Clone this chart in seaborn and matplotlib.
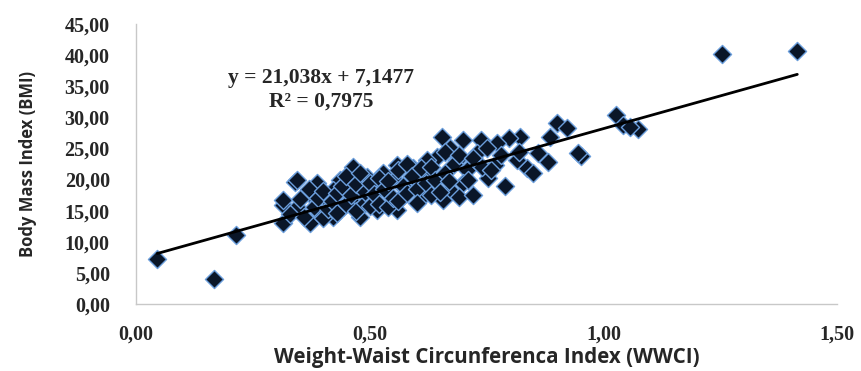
import matplotlib
matplotlib.use('Agg')
import matplotlib.pyplot as plt
from matplotlib.ticker import FuncFormatter, MultipleLocator
import seaborn as sns
import numpy as np
import pandas as pd

# ---------------------------------------------------------------------------
# Data (WWCI vs BMI)
# ---------------------------------------------------------------------------
wwci = [
    0.045, 0.167, 0.214, 0.315, 0.315, 0.340, 1.253, 1.415,
    1.028, 1.043, 1.073, 1.058, 0.951,
    0.901, 0.923, 0.946, 0.886, 0.882, 0.859, 0.837, 0.822, 0.797, 0.773,
    0.815, 0.769, 0.754, 0.737, 0.730, 0.700, 0.672, 0.655, 0.644, 0.687,
    0.708, 0.700, 0.672, 0.657, 0.623, 0.615, 0.593, 0.587, 0.559, 0.550,
    0.572, 0.615, 0.569, 0.529, 0.522, 0.507, 0.494, 0.465, 0.480, 0.458,
    0.437, 0.443, 0.422, 0.409, 0.388, 0.369, 0.373, 0.345, 0.345, 0.315,
    0.394, 0.422, 0.480, 0.516, 0.559,
    0.330, 0.350, 0.360, 0.370, 0.380, 0.390, 0.400, 0.400, 0.410, 0.420,
    0.430, 0.430, 0.440, 0.450, 0.450, 0.460, 0.470, 0.470, 0.480, 0.490,
    0.490, 0.500, 0.500, 0.510, 0.520, 0.520, 0.530, 0.540, 0.540, 0.550,
    0.560, 0.560, 0.570, 0.580, 0.580, 0.590, 0.600, 0.600, 0.610, 0.620,
    0.630, 0.630, 0.640, 0.650, 0.660, 0.660, 0.670, 0.680, 0.690, 0.690,
    0.710, 0.720, 0.720, 0.740, 0.750, 0.760, 0.780, 0.790, 0.820, 0.850,
]
bmi = [
    7.2, 4.0, 11.1, 15.9, 13.0, 19.6, 40.2, 40.7,
    30.4, 28.8, 28.1, 28.5, 23.8,
    29.1, 28.3, 24.3, 26.9, 22.8, 24.3, 21.9, 26.9, 26.7, 25.9,
    23.2, 22.3, 20.3, 26.4, 24.3, 26.4, 25.1, 26.9, 23.6, 23.2,
    21.5, 19.5, 18.3, 16.7, 23.2, 21.1, 21.9, 19.9, 22.3, 20.3,
    18.8, 17.5, 17.2, 21.1, 18.8, 16.7, 20.4, 22.0, 18.3, 16.7,
    19.9, 15.6, 18.3, 16.7, 19.5, 17.8, 13.0, 19.9, 15.6, 16.7,
    14.6, 14.0, 14.0, 15.1, 15.1,
    14.5, 16.8, 14.0, 18.5, 15.5, 17.0, 13.8, 18.2, 15.2, 16.5,
    17.8, 14.6, 19.0, 16.0, 20.5, 17.5, 15.0, 19.2, 21.0, 16.2,
    18.0, 19.5, 15.8, 17.6, 20.2, 16.0, 18.5, 15.5, 19.8, 17.0,
    21.5, 16.5, 19.0, 22.5, 17.8, 20.5, 18.5, 16.2, 21.8, 19.5,
    17.5, 22.0, 20.0, 18.0, 21.0, 24.5, 19.8, 22.5, 17.2, 24.0,
    20.0, 23.5, 17.5, 22.0, 25.0, 21.5, 24.0, 19.0, 24.5, 21.0,
]

# trend line as printed on the chart
slope = 21.038
intercept = 7.1477
r_squared = 0.7975

df = pd.DataFrame({'WWCI': wwci, 'BMI': bmi})
line_x = [min(wwci), max(wwci)]
df_line = pd.DataFrame({'WWCI': line_x,
                        'BMI': [slope * v + intercept for v in line_x]})

# ---------------------------------------------------------------------------
# Plot
# ---------------------------------------------------------------------------
sns.set_style('white')
plt.rcParams['font.family'] = ['Liberation Serif', 'DejaVu Serif']

fig = plt.figure(figsize=(8.62, 3.71), dpi=100)
ax = fig.add_axes([0.158, 0.181, 0.813, 0.754])

sns.scatterplot(data=df, x='WWCI', y='BMI', ax=ax, marker='D', s=85,
                color='#0a1628', edgecolor='#6a9ddb', linewidth=1.0,
                zorder=3, legend=False)
sns.lineplot(data=df_line, x='WWCI', y='BMI', ax=ax, color='black',
             linewidth=2.0, zorder=4)

ax.set_xlim(0, 1.5)
ax.set_ylim(0, 45)
ax.xaxis.set_major_locator(MultipleLocator(0.5))
ax.yaxis.set_major_locator(MultipleLocator(5))
comma_fmt = FuncFormatter(lambda v, p: f'{v:.2f}'.replace('.', ','))
ax.xaxis.set_major_formatter(comma_fmt)
ax.yaxis.set_major_formatter(comma_fmt)

for side in ['top', 'right']:
    ax.spines[side].set_visible(False)
for side in ['left', 'bottom']:
    ax.spines[side].set_color('#c8c8c8')
    ax.spines[side].set_linewidth(1.0)

ax.tick_params(axis='both', which='major', direction='out', length=7,
               width=1.0, color='#c8c8c8', labelsize=14.5)
ax.tick_params(axis='y', pad=12)
ax.tick_params(axis='x', pad=8)
for lbl in ax.get_xticklabels() + ax.get_yticklabels():
    lbl.set_fontweight('bold')

ax.set_xlabel('Weight-Waist Circunferenca Index (WWCI)', fontsize=14.8,
              fontweight='bold', family='Open Sans', labelpad=2)
ax.set_ylabel('Body Mass Index (BMI)', fontsize=12, fontweight='bold',
              family='Open Sans', labelpad=20)

eq = f'y = {slope:.3f}x + {intercept:.4f}'.replace('.', ',')
r2 = f'R² = {r_squared:.4f}'.replace('.', ',')
ax.text(0.395, 36.4, eq, ha='center', va='center', fontsize=15.5,
        fontweight='bold')
ax.text(0.395, 32.6, r2, ha='center', va='center', fontsize=15.5,
        fontweight='bold')

plt.savefig('out.png', dpi=100)
plt.close()
